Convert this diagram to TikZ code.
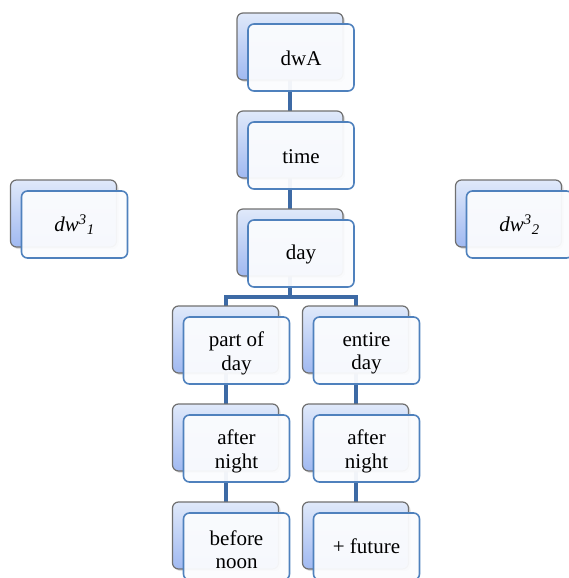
\documentclass[tikz,border=0pt]{standalone}
\usepackage{fontspec}
\setmainfont{Liberation Serif}
\usetikzlibrary{shadows,calc}
\definecolor{backtop}{HTML}{E0E9FA}
\definecolor{backbot}{HTML}{A0B9F1}
\definecolor{backline}{HTML}{707070}
\definecolor{frontline}{HTML}{4F81BD}
\definecolor{frontfill}{HTML}{FBFCFE}
\definecolor{linkcol}{HTML}{3D6AA5}
\tikzset{
  x=1pt, y=-1pt,
  backcard/.style={draw=backline, line width=1.2pt, rounded corners=6pt,
    top color=backtop, bottom color=backbot, minimum width=106pt, minimum height=67pt,
    drop shadow={shadow xshift=2pt, shadow yshift=-2pt, opacity=0.25}},
  frontcard/.style={draw=frontline, line width=1.6pt, rounded corners=6pt,
    fill=frontfill, fill opacity=0.95, minimum width=106pt, minimum height=67pt},
  cardtext/.style={align=center, font=\fontsize{21}{23.5}\selectfont, inner sep=0pt},
  link/.style={draw=linkcol, line width=4pt}
}
% #1 name, #2 x of back card centre, #3 y of back card centre,
% #4 text, #5 vertical nudge of the text
\newcommand{\card}[5]{%
  \node[backcard] (#1b) at (#2,#3) {};
  \node[frontcard] (#1) at ($(#2,#3)+(11,11)$) {};
  \node[cardtext] (#1t) at ($(#1.center)+(0,#5)$) {#4};
}
\begin{document}
\begin{tikzpicture}
\useasboundingbox (0,0) rectangle (569,578);
% connectors, drawn first so the cards sit over them
\coordinate (j1) at (290,297);
\coordinate (jl) at (225.5,297);
\coordinate (jr) at (355.5,297);
\draw[link] (290,80) -- (290,111);
\draw[link] (290,178) -- (290,209);
\draw[link] (290,276) -- (j1);
\draw[link, line cap=rect] (jl) -- (jr);
\draw[link] (jl) -- (225.5,306);
\draw[link] (jr) -- (355.5,306);
\draw[link] (225.5,373) -- (225.5,404);
\draw[link] (355.5,373) -- (355.5,404);
\draw[link] (225.5,471) -- (225.5,502);
\draw[link] (355.5,471) -- (355.5,502);
% cards
\card{dwa}{290}{46.5}{dwA}{1}
\card{time}{290}{144.5}{time}{1}
\card{day}{290}{242.5}{day}{1}
\card{wl}{63.5}{213.5}{\itshape dw\textsuperscript{3}\textsubscript{\itshape 1}}{0}
\card{wr}{508.5}{213.5}{\itshape dw\textsuperscript{3}\textsubscript{2}}{0}
\card{part}{225.5}{339.5}{part of\\day}{3}
\card{entire}{355.5}{339.5}{entire\\day}{3}
\card{anl}{225.5}{437.5}{after\\night}{3}
\card{anr}{355.5}{437.5}{after\\night}{3}
\card{noon}{225.5}{535.5}{before\\noon}{3}
\card{fut}{355.5}{535.5}{+ future}{0}
\end{tikzpicture}
\end{document}
